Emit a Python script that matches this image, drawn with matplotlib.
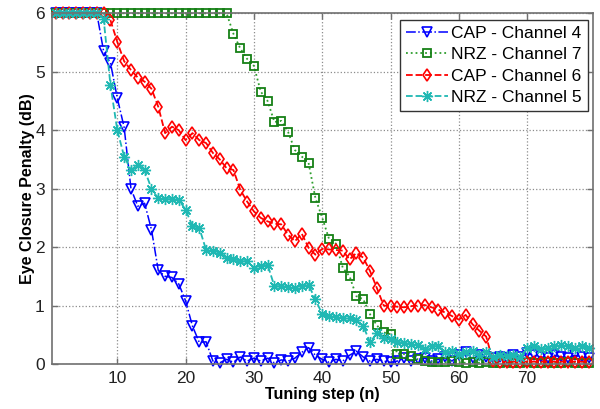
"""
Eye closure penalty vs tuning step for CAP / NRZ channels
"""

import numpy as np
import matplotlib.pyplot as plt

plt.rcParams["font.family"] = ["Liberation Sans", "DejaVu Sans"]

# tuning steps
steps = np.arange(1, 80)

# CAP - Channel 4
cap_ch4 = [6, 6, 6, 6, 6, 6, 6,
           5.35, 5.15, 4.55, 4.05, 3.0, 2.7, 2.75, 2.3, 1.6, 1.5, 1.48, 1.37, 1.08, 0.65, 0.37, 0.38, 0.05,
           0.02, 0.08, 0.03, 0.12, 0.05, 0.1, 0.05, 0.1, 0.02, 0.07, 0.05, 0.1, 0.2, 0.28, 0.15, 0.08,
           0.03, 0.08, 0.05, 0.15, 0.22, 0.12, 0.05, 0.08, 0.05, 0.03, 0.05, 0.1, 0.05, 0.08, 0.1,
           0.05, 0.08, 0.12, 0.05, 0.15, 0.2, 0.1, 0.15, 0.12, 0.1, 0.12, 0.1, 0.15, 0.12, 0.18,
           0.15, 0.12, 0.1, 0.15, 0.12, 0.1, 0.15, 0.12, 0.1]

# NRZ - Channel 7
nrz_ch7 = [6] * 26 + [
    5.65, 5.4, 5.22, 5.1, 4.66, 4.5, 4.14, 4.16, 3.97, 3.66, 3.55, 3.44, 2.84, 2.5,
    2.14, 2.06, 1.65, 1.5, 1.16, 1.11, 0.85, 0.66, 0.54, 0.51, 0.17, 0.17, 0.13,
    0.08, 0.05, 0.03, 0.04, 0.03, 0.05, 0.03, 0.02, 0.03, 0.02, 0.03, 0.02, 0.02,
    0.03, 0.02, 0.02, 0.03, 0.02, 0.02, 0.03, 0.02, 0.02, 0.03, 0.02, 0.02, 0.02]

# CAP - Channel 6
cap_ch6 = [6] * 8 + [
    5.88, 5.51, 5.18, 5.03, 4.9, 4.83, 4.71, 4.4, 3.95, 4.06, 4.0, 3.83, 3.95, 3.83,
    3.78, 3.61, 3.5, 3.35, 3.32, 2.98, 2.78, 2.61, 2.5, 2.44, 2.4, 2.39, 2.21, 2.1,
    2.23, 1.99, 1.87, 1.97, 1.96, 1.95, 1.94, 1.79, 1.9, 1.82, 1.59, 1.3, 1.0, 0.99,
    0.98, 0.97, 0.99, 1.0, 1.01, 0.97, 0.93, 0.88, 0.82, 0.76, 0.84, 0.68, 0.57, 0.47,
    0.05] + [0.04] * 14

# NRZ - Channel 5
nrz_ch5 = [6] * 7 + [
    5.9, 4.77, 4.0, 3.55, 3.32, 3.41, 3.32, 3.0, 2.84, 2.82, 2.82, 2.81, 2.64, 2.36,
    2.33, 1.95, 1.93, 1.9, 1.82, 1.8, 1.76, 1.76, 1.65, 1.67, 1.7, 1.33, 1.33, 1.32,
    1.3, 1.33, 1.35, 1.11, 0.85, 0.82, 0.8, 0.79, 0.78, 0.75, 0.65, 0.37, 0.53, 0.45,
    0.42, 0.38, 0.36, 0.34, 0.32, 0.25, 0.3, 0.31, 0.2, 0.22, 0.17, 0.2, 0.23, 0.15,
    0.2, 0.12, 0.15, 0.13, 0.15, 0.12, 0.28, 0.3, 0.25, 0.28, 0.3, 0.32, 0.3, 0.27,
    0.3, 0.28]

fig = plt.figure(figsize=(6, 4.09), dpi=100)
ax = fig.add_axes([0.0862, 0.11, 0.9017, 0.8575])

ax.plot(steps, cap_ch4, linestyle="-.", color="#0000ff", lw=1.1, marker="v",
        markersize=7, markerfacecolor="none", markeredgewidth=1.2, clip_on=False,
        label="CAP - Channel 4")
ax.plot(steps, nrz_ch7, linestyle=":", color="#2e9e2e", lw=1.3, marker="s",
        markersize=5.5, markerfacecolor="none", markeredgecolor="#168016",
        markeredgewidth=1.3, clip_on=False, label="NRZ - Channel 7")
ax.plot(steps, cap_ch6, linestyle="--", color="#ff0000", lw=1.3, marker="d",
        markersize=6, markerfacecolor="none", markeredgewidth=1.2, clip_on=False,
        label="CAP - Channel 6")
# matlab-style asterisk: 8 spokes
ax.plot(steps, nrz_ch5, linestyle="--", color="#1fb8b3", lw=1.3, marker=(8, 2, 0),
        markersize=8, markeredgewidth=1.0, clip_on=False,
        label="NRZ - Channel 5")

ax.set_xlim(0.4, 79.6)
ax.set_ylim(0, 6)
ax.set_xticks([10, 20, 30, 40, 50, 60, 70])
ax.set_yticks([0, 1, 2, 3, 4, 5, 6])

ax.grid(True, linestyle=":", color="#8c8c8c", lw=0.9)
for s in ax.spines.values():
    s.set_color("#707070")
    s.set_linewidth(1.2)
ax.tick_params(direction="in", length=4, width=1, colors="#707070",
               labelcolor="#222222", labelsize=12.5, top=True, right=True, pad=5)

ax.set_xlabel("Tuning step (n)", fontsize=11.5, fontweight="bold", labelpad=1)
ax.set_ylabel("Eye Closure Penalty (dB)", fontsize=11.5, fontweight="bold", labelpad=0)

leg = ax.legend(loc="upper right", bbox_to_anchor=(0.991, 0.981), borderaxespad=0,
                fontsize=12.5, fancybox=False, edgecolor="#333333", framealpha=1,
                handlelength=2.4, handletextpad=0.2, labelspacing=0.35, borderpad=0.35)
leg.get_frame().set_linewidth(1.0)

plt.savefig("out.png", dpi=100)
plt.close()
